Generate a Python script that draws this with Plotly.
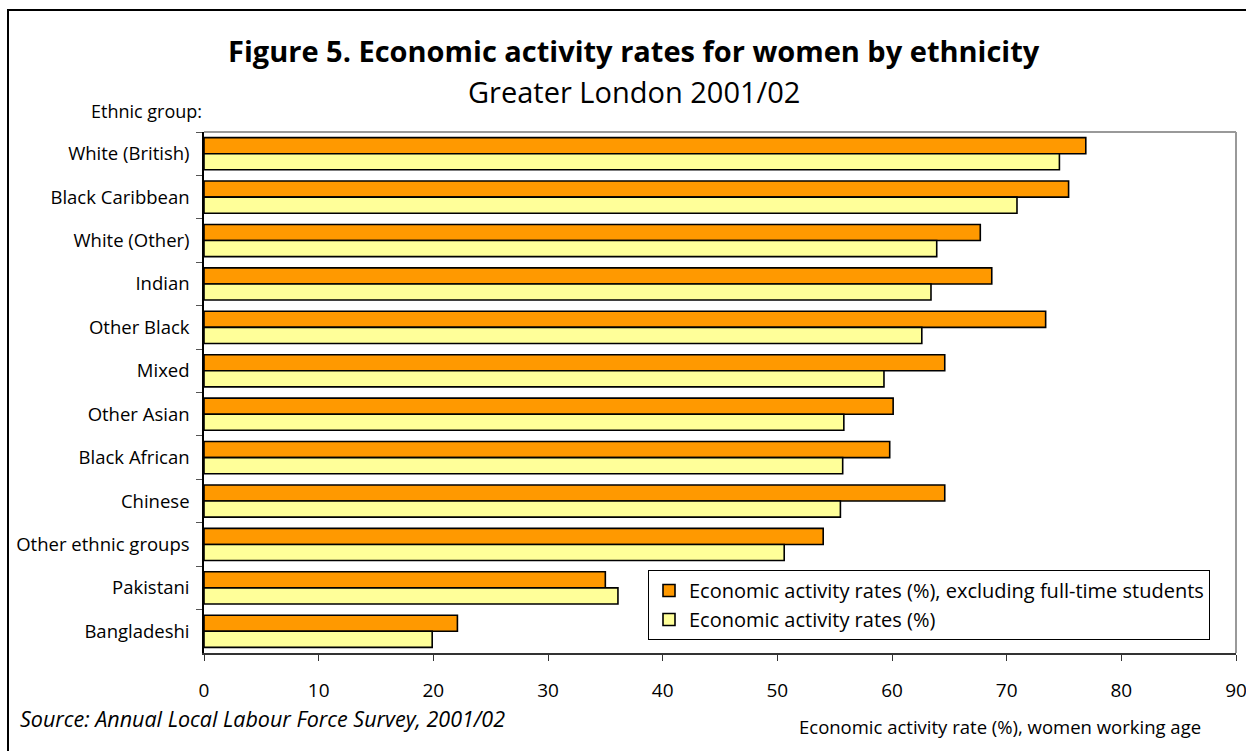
import plotly.graph_objects as go

# Ethnic groups, top to bottom
groups = [
    "White (British)", "Black Caribbean", "White (Other)", "Indian",
    "Other Black", "Mixed", "Other Asian", "Black African", "Chinese",
    "Other ethnic groups", "Pakistani", "Bangladeshi",
]
# Economic activity rates (%), excluding full-time students
rate_excl_students = [76.9, 75.4, 67.7, 68.7, 73.4, 64.6, 60.1, 59.8, 64.6, 54.0, 35.0, 22.1]
# Economic activity rates (%)
rate_all = [74.6, 70.9, 63.9, 63.4, 62.6, 59.3, 55.8, 55.7, 55.5, 50.6, 36.1, 19.9]

x_ticks = [0, 10, 20, 30, 40, 50, 60, 70, 80, 90]

W, H = 1246, 751
L, R, T, B = 204, 1236, 132, 653
FONT = "Open Sans"


def px(x):
    return (x - L) / (R - L)


def py(y):
    return (B - y) / (B - T)


fig = go.Figure()
fig.add_trace(go.Bar(
    y=groups, x=rate_excl_students, orientation="h",
    name="Economic activity rates (%), excluding full-time students",
    marker=dict(color="#FF9900", line=dict(color="#000000", width=1.6)),
    legendgroup="a",
))
fig.add_trace(go.Bar(
    y=groups, x=rate_all, orientation="h",
    name="Economic activity rates (%)",
    marker=dict(color="#FFFF99", line=dict(color="#000000", width=1.6)),
    legendgroup="b",
))

fig.update_layout(
    width=W, height=H,
    margin=dict(l=L, r=W - R, t=T, b=H - B, pad=0, autoexpand=False),
    paper_bgcolor="white", plot_bgcolor="white",
    font=dict(family=FONT, size=19, color="black"),
    barmode="group", bargap=0.26, bargroupgap=0.0,
    showlegend=True,
    legend=dict(
        x=px(648), y=py(570), xanchor="left", yanchor="top",
        bgcolor="white", bordercolor="black", borderwidth=1,
        font=dict(family=FONT, size=20, color="black"),
        tracegroupgap=2, traceorder="normal",
    ),
    xaxis=dict(
        range=[0, 90], tickvals=x_ticks, ticktext=[str(v) for v in x_ticks],
        showgrid=False, zeroline=False, automargin=False,
        showline=True, linecolor="#333333", linewidth=1.5,
        ticks="outside", ticklen=6, tickcolor="#333333", tickwidth=1,
        ticklabelstandoff=13, ticklabeloverflow="allow",
        tickfont=dict(family=FONT, size=19),
        fixedrange=True,
    ),
    yaxis=dict(
        autorange="reversed", type="category",
        showgrid=False, zeroline=False, automargin=False,
        showline=True, linecolor="#000000", linewidth=1.5,
        ticks="outside", ticklen=6, tickcolor="#555555", tickwidth=1,
        tickson="boundaries", ticklabelstandoff=9,
        tickfont=dict(family=FONT, size=18.5),
        fixedrange=True,
    ),
)

# Grey border on the top and right of the plotting area
fig.add_shape(type="line", xref="paper", yref="paper", x0=0, x1=1, y0=1, y1=1,
              line=dict(color="#999999", width=2))
fig.add_shape(type="line", xref="paper", yref="paper", x0=1, x1=1, y0=0, y1=1,
              line=dict(color="#999999", width=2))

# Outer frame of the figure
fig.add_shape(type="rect", xref="paper", yref="paper",
              x0=px(8), x1=px(1260), y0=py(10), y1=py(770),
              line=dict(color="black", width=2), layer="below")

fig.add_annotation(text="<b>Figure 5. Economic activity rates for women by ethnicity</b>",
                   xref="paper", yref="paper", x=px(634), y=py(50),
                   xanchor="center", yanchor="middle", showarrow=False,
                   font=dict(family=FONT, size=29, color="black"))
fig.add_annotation(text="Greater London 2001/02",
                   xref="paper", yref="paper", x=px(634), y=py(91),
                   xanchor="center", yanchor="middle", showarrow=False,
                   font=dict(family=FONT, size=29, color="black"))
fig.add_annotation(text="Ethnic group:",
                   xref="paper", yref="paper", x=px(204), y=py(111),
                   xanchor="right", yanchor="middle", showarrow=False,
                   font=dict(family=FONT, size=18, color="black"))
fig.add_annotation(text="<i>Source: Annual Local Labour Force Survey, 2001/02</i>",
                   xref="paper", yref="paper", x=px(18), y=py(718),
                   xanchor="left", yanchor="middle", showarrow=False,
                   font=dict(family=FONT, size=21.5, color="black"))
fig.add_annotation(text="Economic activity rate (%), women working age",
                   xref="paper", yref="paper", x=px(1203), y=py(726),
                   xanchor="right", yanchor="middle", showarrow=False,
                   font=dict(family=FONT, size=18.5, color="black"))

fig.write_html("out.html")
